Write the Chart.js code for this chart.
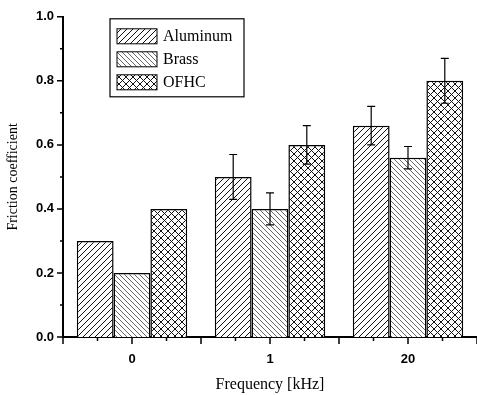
<!DOCTYPE html>
<html>
<head>
<meta charset="utf-8">
<script src="https://cdn.jsdelivr.net/npm/chart.js@4.4.1/dist/chart.umd.min.js"></script>
<style>
  body { margin: 0; background: #fff; }
  #wrap { width: 477px; height: 395px; position: relative; }
</style>
</head>
<body>
<div id="wrap"><canvas id="myChart"></canvas></div>
<script>
// data
const frequencies = ["0", "1", "20"];
const seriesNames = ["Aluminum", "Brass", "OFHC"];
const aluminum = [0.30, 0.50, 0.66];
const brass = [0.20, 0.40, 0.56];
const ofhc = [0.40, 0.60, 0.80];
const aluminumErr = [0, 0.07, 0.06];
const brassErr = [0, 0.05, 0.035];
const ofhcErr = [0, 0.06, 0.07];
const yTicks = [0, 0.2, 0.4, 0.6, 0.8, 1.0];

const ctx = document.getElementById("myChart").getContext("2d");

// hatch fill: "/" , "\" or "x"
function hatch(kind, p, color, lw) {
  const c = document.createElement("canvas");
  c.width = p;
  c.height = p;
  const g = c.getContext("2d");
  g.fillStyle = "#fff";
  g.fillRect(0, 0, p, p);
  g.strokeStyle = color;
  g.lineWidth = lw;
  g.beginPath();
  if (kind === "/" || kind === "x") {
    g.moveTo(-1, 1); g.lineTo(1, -1);
    g.moveTo(0, p); g.lineTo(p, 0);
    g.moveTo(p - 1, p + 1); g.lineTo(p + 1, p - 1);
  }
  if (kind === "\\" || kind === "x") {
    g.moveTo(0, 0); g.lineTo(p, p);
    g.moveTo(-1, p - 1); g.lineTo(1, p + 1);
    g.moveTo(p - 1, -1); g.lineTo(p + 1, 1);
  }
  g.stroke();
  return ctx.createPattern(c, "repeat");
}

const fills = [hatch("/", 6, "#111", 1), hatch("\\", 5, "#555", 0.9), hatch("x", 7, "#111", 1)];
const errs = [aluminumErr, brassErr, ofhcErr];

// error bars drawn from the data arrays
const errorBars = {
  id: "errorBars",
  afterDatasetsDraw(chart) {
    const g = chart.ctx;
    const y = chart.scales.y;
    g.save();
    g.strokeStyle = "#000";
    g.lineWidth = 1.2;
    chart.data.datasets.forEach((ds, i) => {
      chart.getDatasetMeta(i).data.forEach((bar, j) => {
        const e = errs[i][j];
        if (!e) return;
        const v = ds.data[j];
        const top = y.getPixelForValue(v + e);
        const bot = y.getPixelForValue(v - e);
        g.beginPath();
        g.moveTo(bar.x, top); g.lineTo(bar.x, bot);
        g.moveTo(bar.x - 4, top); g.lineTo(bar.x + 4, top);
        g.moveTo(bar.x - 4, bot); g.lineTo(bar.x + 4, bot);
        g.stroke();
      });
    });
    g.restore();
  },
};

// minor/major tick marks and the boxed legend
const axisDecor = {
  id: "axisDecor",
  afterDraw(chart) {
    const g = chart.ctx;
    const x = chart.scales.x;
    const y = chart.scales.y;
    const a = chart.chartArea;
    g.save();
    g.strokeStyle = "#000";
    g.lineWidth = 1.5;
    g.beginPath();
    for (let v = 0; v <= 10; v++) {
      const py = y.getPixelForValue(v / 10);
      g.moveTo(a.left, py);
      g.lineTo(a.left - (v % 2 === 0 ? 6 : 3), py);
    }
    const half = (x.getPixelForValue(1) - x.getPixelForValue(0)) / 2;
    frequencies.forEach((f, i) => {
      const c = x.getPixelForValue(i);
      [[c - half, 7], [c - half / 2, 4], [c, 7], [c + half / 2, 4], [c + half, 7]].forEach(([px, len]) => {
        g.moveTo(px, a.bottom);
        g.lineTo(px, a.bottom + len);
      });
    });
    g.stroke();

    // legend
    const lx = a.left + 47, ly = a.top + 2, lw = 134, lh = 78;
    g.lineWidth = 1.2;
    g.strokeRect(lx, ly, lw, lh);
    g.font = "16px 'Liberation Serif'";
    g.fillStyle = "#000";
    g.textBaseline = "middle";
    chart.data.datasets.forEach((ds, i) => {
      const top = ly + 10 + i * 23;
      g.fillStyle = ds.backgroundColor;
      g.fillRect(lx + 7, top, 40, 15);
      g.lineWidth = 1;
      g.strokeRect(lx + 7, top, 40, 15);
      g.fillStyle = "#000";
      g.fillText(ds.label, lx + 53, top + 8);
    });
    g.restore();
  },
};

Chart.defaults.font.family = "'Liberation Sans', Arial, sans-serif";
Chart.defaults.color = "#000";

const frictionChart = new Chart(ctx, {
  type: "bar",
  data: {
    labels: frequencies,
    datasets: [
      { label: seriesNames[0], data: aluminum, backgroundColor: fills[0] },
      { label: seriesNames[1], data: brass, backgroundColor: fills[1] },
      { label: seriesNames[2], data: ofhc, backgroundColor: fills[2] },
    ].map((d) => ({ ...d, borderColor: "#000", borderWidth: 1.5, barPercentage: 1, categoryPercentage: 0.8 })),
  },
  options: {
    responsive: true,
    maintainAspectRatio: false,
    animation: false,
    layout: { padding: { top: 15, right: 0, left: 0, bottom: 0 } },
    plugins: { legend: { display: false }, tooltip: { enabled: false } },
    scales: {
      x: {
        offset: true,
        grid: { display: false, drawTicks: false },
        border: { display: true, color: "#000", width: 2 },
        ticks: { font: { size: 13, weight: "bold" }, padding: 15 },
        title: {
          display: true,
          text: "Frequency [kHz]",
          font: { family: "'Liberation Serif'", size: 16 },
          padding: { top: 4, bottom: 1 },
        },
        afterFit: (s) => { s.height = 58; },
      },
      y: {
        min: 0,
        max: 1,
        afterBuildTicks: (s) => { s.ticks = yTicks.map((v) => ({ value: v })); },
        grid: { display: false, drawTicks: false },
        border: { display: true, color: "#000", width: 2 },
        ticks: { font: { size: 13, weight: "bold" }, padding: 9, callback: (v) => v.toFixed(1) },
        title: {
          display: true,
          text: "Friction coefficient",
          font: { family: "'Liberation Serif'", size: 14 },
          padding: { top: 5, bottom: 4 },
        },
        afterFit: (s) => { s.width = 63; },
      },
    },
  },
  plugins: [errorBars, axisDecor],
});
</script>
</body>
</html>
